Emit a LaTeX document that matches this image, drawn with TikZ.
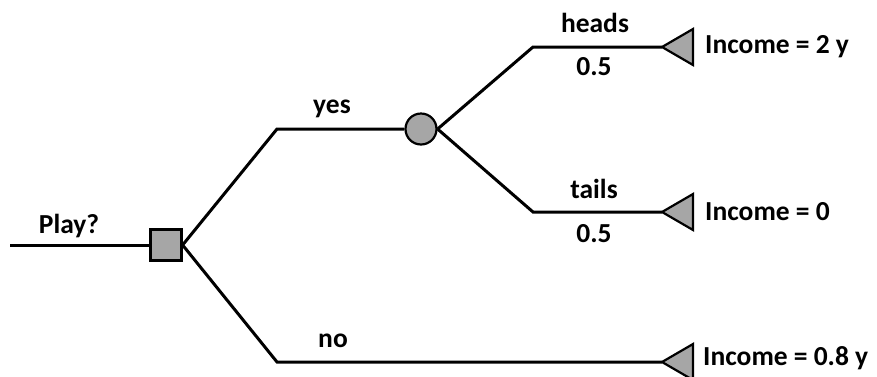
\documentclass[tikz,border=0pt]{standalone}
\usepackage{fontspec}
\setmainfont{Carlito}
\begin{document}
\begin{tikzpicture}[x=1pt,y=-1pt,
  branch/.style={line width=3pt, line join=miter},
  decision/.style={draw, line width=2.2pt, fill=gray!70, rectangle, minimum size=31pt, inner sep=0pt},
  chance/.style={draw, line width=2.2pt, fill=gray!70, circle, minimum size=31pt, inner sep=0pt},
  term/.style={draw, line width=2.2pt, fill=gray!70, line join=miter},
  lbl/.style={font=\fontsize{27.5}{32}\selectfont\bfseries, inner sep=0pt},
]
\useasboundingbox (0,0) rectangle (877,376);
% nodes
\node[decision] (d) at (166,245) {};
\node[chance] (c) at (421,129) {};
\coordinate (start) at (10,245);
\coordinate (yesk) at (277,129);
\coordinate (nok) at (277,362);
\coordinate (hk) at (533,47);
\coordinate (tk) at (533,212);
\coordinate (h) at (662,47);
\coordinate (t) at (662,212);
\coordinate (n) at (662,362);
% connectors
\draw[branch] (start) -- (d.west);
\draw[branch] (d.east) -- (yesk) -- (c.west);
\draw[branch] (d.east) -- (nok) -- (n);
\draw[branch] (c.east) -- (hk) -- (h);
\draw[branch] (c.east) -- (tk) -- (t);
% terminal triangles
\draw[term] (h) -- ++(31,-18) -- ++(0,36) -- cycle;
\draw[term] (t) -- ++(31,-18) -- ++(0,36) -- cycle;
\draw[term] (n) -- ++(31,-18) -- ++(0,36) -- cycle;
% labels
\node[lbl, anchor=base] (lplay) at (69,233) {Play?};
\node[lbl, anchor=base] (lyes) at (332,113) {yes};
\node[lbl, anchor=base] (lno) at (333,347) {no};
\node[lbl, anchor=base] (lheads) at (595,32) {heads};
\node[lbl, anchor=base] (lph) at (594,75) {0.5};
\node[lbl, anchor=base] (ltails) at (594,198) {tails};
\node[lbl, anchor=base] (lpt) at (594,242) {0.5};
\node[lbl, anchor=base west] (i1) at (705,53) {Income = 2 y};
\node[lbl, anchor=base west] (i2) at (705,220) {Income = 0};
\node[lbl, anchor=base west] (i3) at (703,365) {Income = 0.8 y};
\end{tikzpicture}
\end{document}
